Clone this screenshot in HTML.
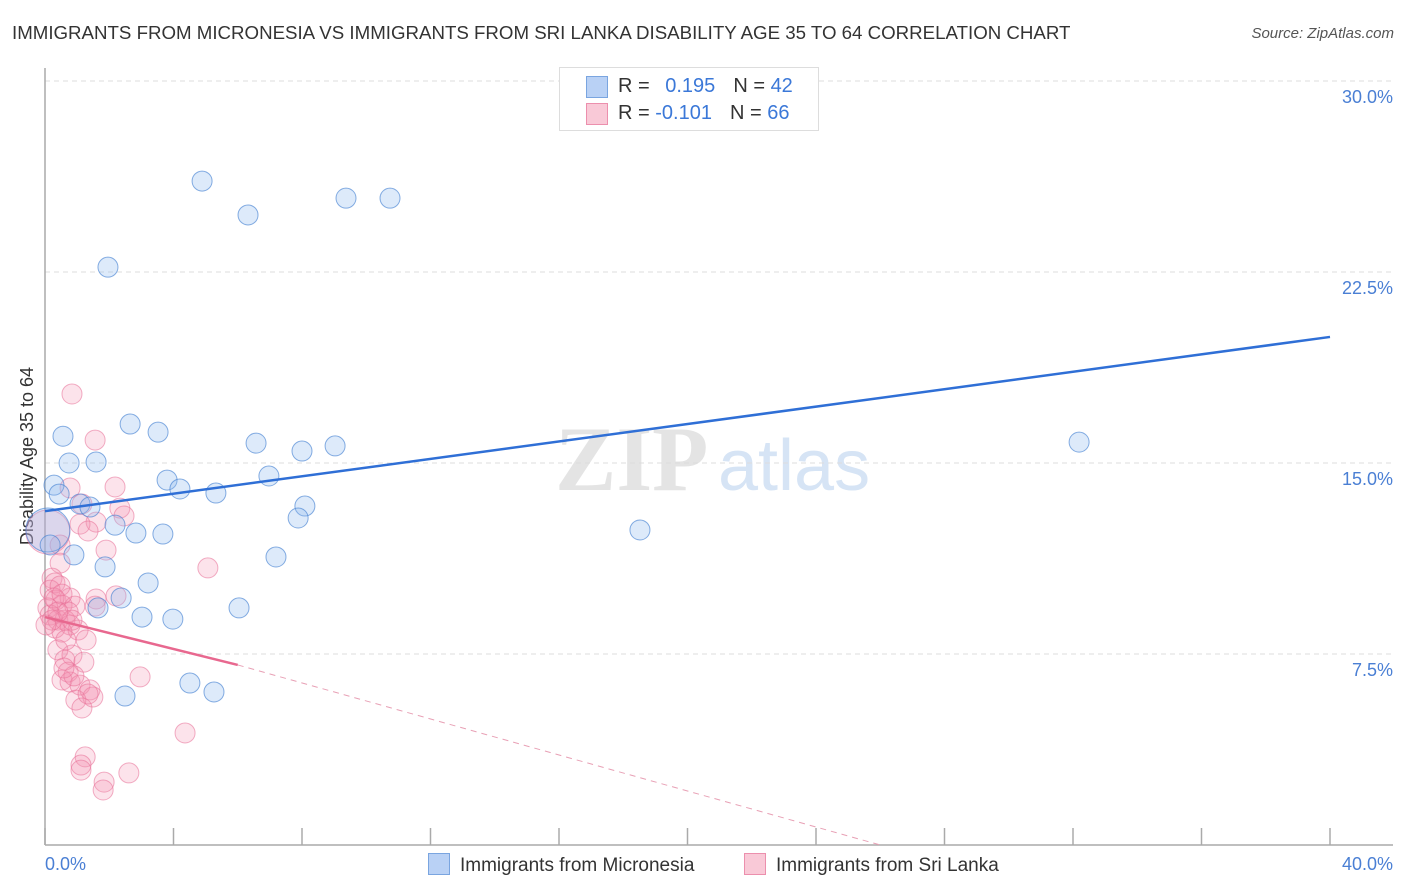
<!DOCTYPE html>
<html><head><meta charset="utf-8">
<style>
body{margin:0;background:#fff;font-family:"Liberation Sans",sans-serif;}
#wrap{position:relative;width:1406px;height:892px;overflow:hidden;}
.t{position:absolute;white-space:nowrap;}
</style></head>
<body>
<div id="wrap">
<div class="t" style="left:12px;top:22px;font-size:18.7px;color:#333;">IMMIGRANTS FROM MICRONESIA VS IMMIGRANTS FROM SRI LANKA DISABILITY AGE 35 TO 64 CORRELATION CHART</div>
<div class="t" style="right:12px;top:25px;font-size:15px;color:#555;font-style:italic;">Source: ZipAtlas.com</div>
<svg id="plot" width="1406" height="892" style="position:absolute;left:0;top:0"></svg>
</div>
<script>
const xTicks=[0,4,8,12,16,20,24,28,32,36,40];
const yTicks=[7.5,15,22.5,30];
const yTickLabels=["7.5%","15.0%","22.5%","30.0%"];
const microX=[4.89,6.32,9.37,10.74,1.96,0.56,2.65,3.52,0.75,1.59,6.57,8.00,9.03,32.19,0.28,0.44,3.80,4.20,5.32,6.97,1.09,1.40,8.09,7.88,2.18,2.83,3.67,18.52,0.90,7.19,1.87,3.21,2.37,1.65,6.04,3.02,3.98,4.51,5.26,2.49,0.09,0.16];
const microY=[26.07,24.74,25.40,25.40,22.69,16.05,16.53,16.21,15.00,15.04,15.78,15.47,15.67,15.82,14.13,13.78,14.33,13.98,13.82,14.49,13.39,13.27,13.31,12.84,12.56,12.25,12.21,12.37,11.39,11.31,10.92,10.29,9.70,9.31,9.31,8.95,8.87,6.36,6.01,5.85,12.37,11.78];
const microBig=[40];
const sriX=[0.84,1.56,0.78,2.18,1.15,2.33,2.46,1.59,1.09,1.34,0.09,0.47,1.90,5.07,0.47,0.22,0.31,0.16,0.34,0.78,2.21,1.59,0.53,0.09,0.93,0.16,0.40,0.62,0.78,0.31,1.03,0.53,1.28,0.40,0.62,0.84,1.21,0.72,0.53,0.78,1.09,1.40,1.49,0.96,1.15,2.96,4.36,1.25,1.12,1.12,1.84,1.81,2.61,0.22,0.72,0.47,0.65,0.90,1.34,0.28,0.53,0.84,0.03,0.40,1.56,0.59];
const sriY=[17.71,15.90,14.02,14.06,13.39,13.23,12.92,12.68,12.60,12.33,12.29,11.78,11.58,10.88,11.07,10.48,10.29,10.01,9.62,9.70,9.78,9.66,9.42,9.31,9.38,9.03,8.83,8.83,8.64,8.52,8.44,8.36,8.05,7.66,7.26,7.46,7.18,6.79,6.48,6.40,6.28,6.09,5.81,5.69,5.38,6.60,4.40,3.46,3.14,2.94,2.47,2.16,2.83,8.83,9.15,10.17,8.05,6.64,5.93,9.70,9.85,8.83,8.64,9.15,9.38,6.95];
const sriBig=[10];
const microTrend=[[0,13.11],[40,19.95]];
const sriTrendSolid=[[0,8.95],[6.0,7.07]];
const sriTrendDash=[[6.0,7.07],[26,0.0]];

const svg=document.getElementById('plot');
const NS='http://www.w3.org/2000/svg';
const X=v=>45+v/40*1285;
const Y=v=>845-v/7.5*191;
function mk(tag,attrs){const e=document.createElementNS(NS,tag);for(const k in attrs)e.setAttribute(k,attrs[k]);svg.appendChild(e);return e;}

let w=mk('text',{x:555,y:490,'font-size':92,'font-family':'Liberation Serif,serif',fill:'#e4e4e4','font-weight':'bold'});w.textContent='ZIP';


let w2=mk('text',{x:718,y:490,'font-size':72,'font-family':'Liberation Sans,sans-serif',fill:'#d6e4f5'});w2.textContent='atlas';



yTicks.forEach((t,i)=>{
 const g=mk('line',{x1:45,x2:1393,y1:Y(t),y2:Y(t),stroke:'#ddd','stroke-dasharray':'5,4'});
 
 
 const l=mk('text',{x:1393,y:Y(t)+22,'text-anchor':'end','font-size':18,fill:'#4a7fd4'});l.textContent=yTickLabels[i];
 
 
});
let ya=mk('line',{x1:45,x2:45,y1:68,y2:845,stroke:'#aaa','stroke-width':1.5});


let xa=mk('line',{x1:45,x2:1393,y1:845,y2:845,stroke:'#aaa','stroke-width':1.5});


xTicks.forEach(t=>{
 const tk=mk('line',{x1:X(t),x2:X(t),y1:828,y2:845,stroke:'#aaa','stroke-width':1.5});
 
 
});
let xl0=mk('text',{x:45,y:870,'font-size':18,fill:'#4a7fd4'});xl0.textContent='0.0%';


let xl1=mk('text',{x:1393,y:870,'font-size':18,fill:'#4a7fd4','text-anchor':'end'});xl1.textContent='40.0%';


let yt=mk('text',{x:0,y:0,'font-size':18,fill:'#333','text-anchor':'middle',transform:'translate(33,456) rotate(-90)'});yt.textContent='Disability Age 35 to 64';



sriX.forEach((x,i)=>{
 const c=mk('circle',{cx:X(x),cy:Y(sriY[i]),r:sriBig.includes(i)?22:10,fill:'rgba(244,143,177,0.25)',stroke:'rgba(232,110,150,0.55)','stroke-width':1});
 
 
});
microX.forEach((x,i)=>{
 const c=mk('circle',{cx:X(x),cy:Y(microY[i]),r:microBig.includes(i)?22:10,fill:'rgba(144,185,240,0.3)',stroke:'rgba(70,130,210,0.65)','stroke-width':1});
 
 
});
let bt=mk('line',{x1:X(microTrend[0][0]),y1:Y(microTrend[0][1]),x2:X(microTrend[1][0]),y2:Y(microTrend[1][1]),stroke:'#2f6fd6','stroke-width':2.5});


let pt=mk('line',{x1:X(sriTrendSolid[0][0]),y1:Y(sriTrendSolid[0][1]),x2:X(sriTrendSolid[1][0]),y2:Y(sriTrendSolid[1][1]),stroke:'#e8688f','stroke-width':2.5});


let pd=mk('line',{x1:X(sriTrendDash[0][0]),y1:Y(sriTrendDash[0][1]),x2:X(sriTrendDash[1][0]),y2:Y(sriTrendDash[1][1]),stroke:'#e8a0b5','stroke-width':1,'stroke-dasharray':'6,5'});


</script>
<div class="t" style="left:559px;top:67px;width:258px;height:62px;border:1px solid #ddd;background:#fff;font-size:20px;color:#333;">
 <div style="position:absolute;left:26px;top:8px;width:20px;height:20px;background:#b9d1f5;border:1px solid #7aa5e0;"></div>
 <div style="position:absolute;left:58px;top:7px;">R = <span style="color:#3b78d8;margin-left:10px;">0.195</span><span style="margin-left:18px;">N = </span><span style="color:#3b78d8;">42</span></div>
 <div style="position:absolute;left:26px;top:35px;width:20px;height:20px;background:#f9c9d7;border:1px solid #ec8fad;"></div>
 <div style="position:absolute;left:58px;top:34px;">R = <span style="color:#3b78d8;">-0.101</span><span style="margin-left:18px;">N = </span><span style="color:#3b78d8;">66</span></div>
</div>
<div class="t" style="left:428px;top:853px;font-size:19px;color:#333;"><span style="display:inline-block;width:20px;height:20px;background:#b9d1f5;border:1px solid #7aa5e0;vertical-align:-4px;margin-right:10px;"></span>Immigrants from Micronesia</div>
<div class="t" style="left:744px;top:853px;font-size:19px;color:#333;"><span style="display:inline-block;width:20px;height:20px;background:#f9c9d7;border:1px solid #ec8fad;vertical-align:-4px;margin-right:10px;"></span>Immigrants from Sri Lanka</div>
</body></html>
